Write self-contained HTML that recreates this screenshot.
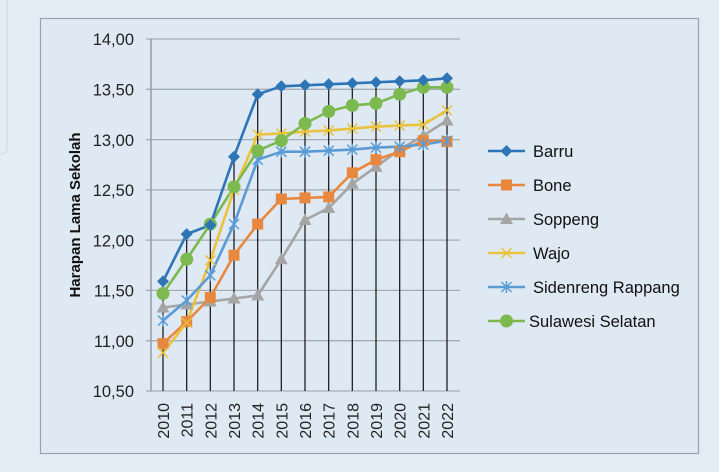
<!DOCTYPE html>
<html><head><meta charset="utf-8"><style>
html,body{margin:0;padding:0;width:719px;height:472px;overflow:hidden;background:#e4edf6;}
svg{display:block;font-family:"Liberation Sans",sans-serif;}
</style></head><body>
<svg width="719" height="472" viewBox="0 0 719 472">
<defs>
<path id="dia" d="M0,-6 L6,0 L0,6 L-6,0Z"/>
<rect id="sq" x="-5.5" y="-5.5" width="11" height="11"/>
<path id="tri" d="M0,-6.5 L6.5,5 L-6.5,5Z"/>
<path id="xx" d="M-5,-5 L5,5 M-5,5 L5,-5" fill="none"/>
<path id="ast" d="M-5,-5 L5,5 M-5,5 L5,-5 M0,-6 L0,6" fill="none"/>
<circle id="cir" r="6.5"/>
</defs>
<rect x="0" y="0" width="719" height="472" fill="#e4edf6"/>
<rect x="-6" y="-6" width="13" height="160" rx="6" fill="none" stroke="#cfd6de" stroke-width="1"/>
<rect x="40.5" y="18.5" width="658" height="435" fill="#dee9f4" stroke="#9aa3ad" stroke-width="1.2"/>
<g stroke="#a6acb3" stroke-width="1.3">
<line x1="146" y1="39" x2="460" y2="39"/><line x1="146" y1="89.3" x2="460" y2="89.3"/>
<line x1="146" y1="139.6" x2="460" y2="139.6"/><line x1="146" y1="189.9" x2="460" y2="189.9"/>
<line x1="146" y1="240.1" x2="460" y2="240.1"/><line x1="146" y1="290.4" x2="460" y2="290.4"/>
<line x1="146" y1="340.7" x2="460" y2="340.7"/><line x1="146" y1="391" x2="460" y2="391"/>
<line x1="151" y1="39" x2="151" y2="391" stroke="#8a9098"/>
</g>
<g font-size="16.5" fill="#222" text-anchor="end">
<text x="134" y="45">14,00</text><text x="134" y="95.5">13,50</text><text x="134" y="146">13,00</text>
<text x="134" y="196">12,50</text><text x="134" y="246.5">12,00</text><text x="134" y="296.5">11,50</text>
<text x="134" y="347">11,00</text><text x="134" y="397">10,50</text>
</g>
<text transform="translate(80,215) rotate(-90)" text-anchor="middle" font-size="15" font-weight="bold" fill="#111">Harapan Lama Sekolah</text>
<g font-size="16" fill="#222" text-anchor="end">
<text transform="translate(169,403) rotate(-90)">2010</text>
<text transform="translate(192.7,403) rotate(-90)">2011</text>
<text transform="translate(216.3,403) rotate(-90)">2012</text>
<text transform="translate(240,403) rotate(-90)">2013</text>
<text transform="translate(263.7,403) rotate(-90)">2014</text>
<text transform="translate(287.3,403) rotate(-90)">2015</text>
<text transform="translate(311,403) rotate(-90)">2016</text>
<text transform="translate(334.7,403) rotate(-90)">2017</text>
<text transform="translate(358.3,403) rotate(-90)">2018</text>
<text transform="translate(382,403) rotate(-90)">2019</text>
<text transform="translate(405.7,403) rotate(-90)">2020</text>
<text transform="translate(429.3,403) rotate(-90)">2021</text>
<text transform="translate(453,403) rotate(-90)">2022</text>
</g>
<g fill="none" stroke-width="2.6" stroke-linejoin="round">
<polyline stroke="#a5a5a5" points="163,307.5 186.7,304.5 210.3,301.5 234,298.5 257.7,295.5 281.3,259.3 305,220 328.7,208 352.3,183.8 376,166.7 399.7,149.6 423.3,135.6 447,120.5"/>
<polyline stroke="#e8883f" points="163,343.7 186.7,321.6 210.3,297.5 234,255.2 257.7,224.1 281.3,198.9 305,197.9 328.7,196.9 352.3,172.8 376,159.7 399.7,151.7 423.3,140.6 447,141.6"/>
<polyline stroke="#e9c23e" points="163,352.8 186.7,322.6 210.3,260.3 234,189.9 257.7,134.6 281.3,133.6 305,131.6 328.7,130.6 352.3,128.6 376,126.6 399.7,125.6 423.3,124.6 447,110.4"/>
<polyline stroke="#5b9bd5" points="163,320.6 186.7,300.5 210.3,275.4 234,224.1 257.7,159.7 281.3,151.7 305,151.7 328.7,150.7 352.3,149.6 376,147.6 399.7,146.6 423.3,144.6 447,140.6"/>
<polyline stroke="#7cb94f" points="163,293.5 186.7,259.3 210.3,224.1 234,186.9 257.7,150.7 281.3,140.6 305,123.5 328.7,111.4 352.3,105.4 376,103.4 399.7,94.3 423.3,87.3 447,87.3"/>
<polyline stroke="#2e75b6" points="163,281.4 186.7,234.1 210.3,225.1 234,156.7 257.7,94.3 281.3,86.3 305,85.3 328.7,84.3 352.3,83.3 376,82.3 399.7,81.3 423.3,80.3 447,78.3"/>
</g>
<g stroke="#111" stroke-width="1.2">
<line x1="163" y1="281.4" x2="163" y2="391"/><line x1="186.7" y1="234.1" x2="186.7" y2="391"/>
<line x1="210.3" y1="225.1" x2="210.3" y2="391"/><line x1="234" y1="156.7" x2="234" y2="391"/>
<line x1="257.7" y1="94.3" x2="257.7" y2="391"/><line x1="281.3" y1="86.3" x2="281.3" y2="391"/>
<line x1="305" y1="85.3" x2="305" y2="391"/><line x1="328.7" y1="84.3" x2="328.7" y2="391"/>
<line x1="352.3" y1="83.3" x2="352.3" y2="391"/><line x1="376" y1="82.3" x2="376" y2="391"/>
<line x1="399.7" y1="81.3" x2="399.7" y2="391"/><line x1="423.3" y1="80.3" x2="423.3" y2="391"/>
<line x1="447" y1="78.3" x2="447" y2="391"/>
</g>
<g fill="#a5a5a5">
<use href="#tri" x="163" y="307.5"/><use href="#tri" x="186.7" y="304.5"/><use href="#tri" x="210.3" y="301.5"/><use href="#tri" x="234" y="298.5"/><use href="#tri" x="257.7" y="295.5"/><use href="#tri" x="281.3" y="259.3"/><use href="#tri" x="305" y="220"/><use href="#tri" x="328.7" y="208"/><use href="#tri" x="352.3" y="183.8"/><use href="#tri" x="376" y="166.7"/><use href="#tri" x="399.7" y="149.6"/><use href="#tri" x="423.3" y="135.6"/><use href="#tri" x="447" y="120.5"/>
</g>
<g fill="#e8883f">
<use href="#sq" x="163" y="343.7"/><use href="#sq" x="186.7" y="321.6"/><use href="#sq" x="210.3" y="297.5"/><use href="#sq" x="234" y="255.2"/><use href="#sq" x="257.7" y="224.1"/><use href="#sq" x="281.3" y="198.9"/><use href="#sq" x="305" y="197.9"/><use href="#sq" x="328.7" y="196.9"/><use href="#sq" x="352.3" y="172.8"/><use href="#sq" x="376" y="159.7"/><use href="#sq" x="399.7" y="151.7"/><use href="#sq" x="423.3" y="140.6"/><use href="#sq" x="447" y="141.6"/>
</g>
<g stroke="#e9c23e" stroke-width="1.5">
<use href="#xx" x="163" y="352.8"/><use href="#xx" x="186.7" y="322.6"/><use href="#xx" x="210.3" y="260.3"/><use href="#xx" x="234" y="189.9"/><use href="#xx" x="257.7" y="134.6"/><use href="#xx" x="281.3" y="133.6"/><use href="#xx" x="305" y="131.6"/><use href="#xx" x="328.7" y="130.6"/><use href="#xx" x="352.3" y="128.6"/><use href="#xx" x="376" y="126.6"/><use href="#xx" x="399.7" y="125.6"/><use href="#xx" x="423.3" y="124.6"/><use href="#xx" x="447" y="110.4"/>
</g>
<g stroke="#5b9bd5" stroke-width="1.5">
<use href="#ast" x="163" y="320.6"/><use href="#ast" x="186.7" y="300.5"/><use href="#ast" x="210.3" y="275.4"/><use href="#ast" x="234" y="224.1"/><use href="#ast" x="257.7" y="159.7"/><use href="#ast" x="281.3" y="151.7"/><use href="#ast" x="305" y="151.7"/><use href="#ast" x="328.7" y="150.7"/><use href="#ast" x="352.3" y="149.6"/><use href="#ast" x="376" y="147.6"/><use href="#ast" x="399.7" y="146.6"/><use href="#ast" x="423.3" y="144.6"/><use href="#ast" x="447" y="140.6"/>
</g>
<g fill="#7cb94f">
<use href="#cir" x="163" y="293.5"/><use href="#cir" x="186.7" y="259.3"/><use href="#cir" x="210.3" y="224.1"/><use href="#cir" x="234" y="186.9"/><use href="#cir" x="257.7" y="150.7"/><use href="#cir" x="281.3" y="140.6"/><use href="#cir" x="305" y="123.5"/><use href="#cir" x="328.7" y="111.4"/><use href="#cir" x="352.3" y="105.4"/><use href="#cir" x="376" y="103.4"/><use href="#cir" x="399.7" y="94.3"/><use href="#cir" x="423.3" y="87.3"/><use href="#cir" x="447" y="87.3"/>
</g>
<g fill="#2e75b6">
<use href="#dia" x="163" y="281.4"/><use href="#dia" x="186.7" y="234.1"/><use href="#dia" x="210.3" y="225.1"/><use href="#dia" x="234" y="156.7"/><use href="#dia" x="257.7" y="94.3"/><use href="#dia" x="281.3" y="86.3"/><use href="#dia" x="305" y="85.3"/><use href="#dia" x="328.7" y="84.3"/><use href="#dia" x="352.3" y="83.3"/><use href="#dia" x="376" y="82.3"/><use href="#dia" x="399.7" y="81.3"/><use href="#dia" x="423.3" y="80.3"/><use href="#dia" x="447" y="78.3"/>
</g>
<g stroke-width="2.6">
<line x1="488" y1="151" x2="525" y2="151" stroke="#2e75b6"/><use href="#dia" x="506.5" y="151" fill="#2e75b6"/>
<line x1="488" y1="185" x2="525" y2="185" stroke="#e8883f"/><use href="#sq" x="506.5" y="185" fill="#e8883f" stroke="none"/>
<line x1="488" y1="219" x2="525" y2="219" stroke="#a5a5a5"/><use href="#tri" x="506.5" y="219" fill="#a5a5a5" stroke="none"/>
<line x1="488" y1="253" x2="525" y2="253" stroke="#e9c23e"/><use href="#xx" x="506.5" y="253" stroke="#e9c23e" stroke-width="1.5"/>
<line x1="488" y1="287" x2="525" y2="287" stroke="#5b9bd5"/><use href="#ast" x="506.5" y="287" stroke="#5b9bd5" stroke-width="1.5"/>
<line x1="488" y1="321" x2="525" y2="321" stroke="#7cb94f"/><use href="#cir" x="506.5" y="321" fill="#7cb94f" stroke="none"/>
</g>
<g font-size="16.5" fill="#111">
<text x="533" y="157">Barru</text><text x="533" y="191">Bone</text><text x="533" y="225">Soppeng</text>
<text x="533" y="259">Wajo</text><text x="533" y="293">Sidenreng Rappang</text><text x="529" y="327">Sulawesi Selatan</text>
</g>
</svg>
</body></html>
